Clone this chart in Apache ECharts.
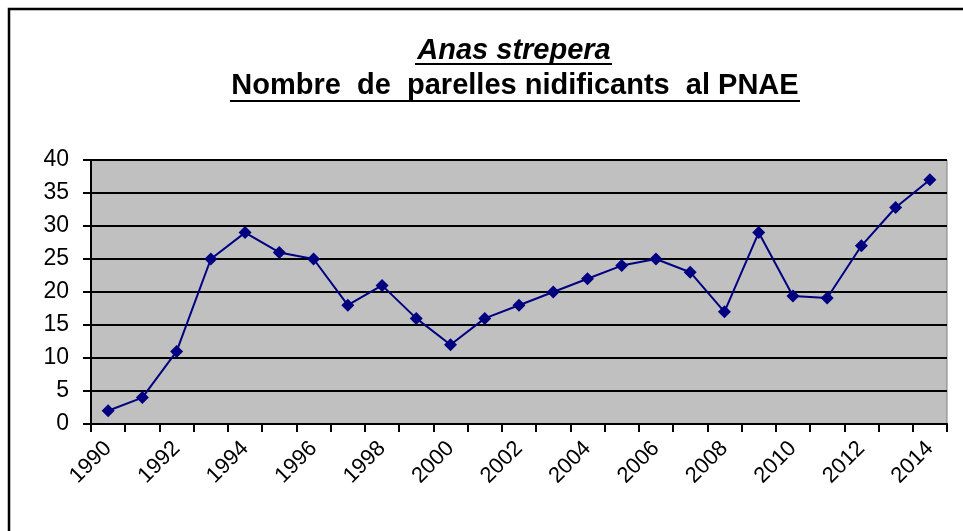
<!DOCTYPE html>
<html>
<head>
<meta charset="utf-8">
<script src="https://cdn.jsdelivr.net/npm/echarts@6/dist/echarts.min.js"></script>
<style>
  html, body { margin: 0; padding: 0; background: #fff; }
  #chart { width: 963px; height: 531px; }
</style>
</head>
<body>
<div id="chart"></div>
<script>
// breeding pairs of Anas strepera, 1990-2014
const years = ['1990','1991','1992','1993','1994','1995','1996','1997','1998','1999','2000','2001','2002',
  '2003','2004','2005','2006','2007','2008','2009','2010','2011','2012','2013','2014'];
const pairs = [2, 4, 11, 25, 29, 26, 25, 18, 21, 16, 12, 16, 18, 20, 22, 24, 25, 23, 17, 29, 19.4, 19.1, 27, 32.8, 37];
const titleMain = 'Anas strepera';
const titleSub = 'Nombre  de  parelles nidificants  al PNAE';

const font = '"Liberation Sans", Arial, sans-serif';
const chart = echarts.init(document.getElementById('chart'));

chart.setOption({
  backgroundColor: '#fff',
  animation: false,
  graphic: [
    // outer frame (only top and left edges visible)
    { type: 'polyline', shape: { points: [[9, 540], [9, 9], [975, 9]] },
      style: { stroke: '#000', lineWidth: 2.5, fill: null } },
    // title lines, underlined
    { type: 'text', x: 514, y: 51,
      style: { text: titleMain, font: 'italic bold 29px ' + font, fill: '#000', align: 'center', verticalAlign: 'middle' } },
    { type: 'text', x: 515, y: 86,
      style: { text: titleSub, font: 'bold 29px ' + font, fill: '#000', align: 'center', verticalAlign: 'middle' } },
    { type: 'line', shape: { x1: 415, y1: 64, x2: 612, y2: 64 }, style: { stroke: '#000', lineWidth: 2 } },
    { type: 'line', shape: { x1: 230, y1: 101, x2: 800, y2: 101 }, style: { stroke: '#000', lineWidth: 2 } }
  ],
  grid: {
    left: 91, right: 16, top: 160, bottom: 107,
    show: true,
    backgroundColor: '#c0c0c0',
    borderColor: '#808080',
    borderWidth: 1
  },
  xAxis: {
    type: 'category',
    data: years,
    boundaryGap: true,
    axisLine: { lineStyle: { color: '#000', width: 2 } },
    axisTick: { show: true, interval: 0, length: 8, lineStyle: { color: '#000', width: 2 } },
    axisLabel: { interval: 1, rotate: 45, fontSize: 22, fontFamily: font, color: '#000', margin: 21 },
    splitLine: { show: false }
  },
  yAxis: {
    type: 'value',
    min: 0,
    max: 40,
    interval: 5,
    axisLine: { show: true, lineStyle: { color: '#000', width: 2 } },
    axisTick: { show: true, length: 8, lineStyle: { color: '#000', width: 2 } },
    axisLabel: { fontSize: 23, fontFamily: font, color: '#000', margin: 22 },
    splitLine: { show: true, lineStyle: { color: '#000', width: 2 } }
  },
  series: [
    {
      type: 'line',
      data: pairs,
      symbol: 'diamond',
      symbolSize: 13,
      itemStyle: { color: '#000080' },
      lineStyle: { color: '#000080', width: 2 }
    }
  ]
});
</script>
</body>
</html>
